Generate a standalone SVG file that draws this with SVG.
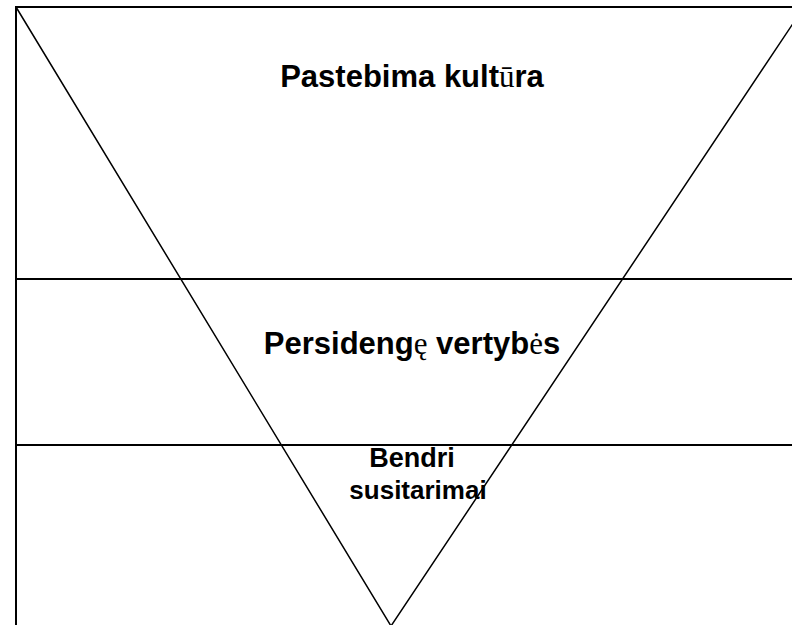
<svg xmlns="http://www.w3.org/2000/svg" width="792" height="625" viewBox="0 0 792 625">
  <style>
    .frame { fill: none; stroke: #000; stroke-width: 2; }
    .tri { fill: none; stroke: #000; stroke-width: 1.5; }
    .lbl { font-family: "Liberation Sans", Arial, sans-serif; font-weight: bold; fill: #000; text-anchor: middle; }
    .alt { font-family: "Liberation Serif", "Times New Roman", serif; font-weight: normal; }
  </style>
  <rect width="792" height="625" fill="#fff"/>
  <g id="frame">
    <path class="frame" d="M16,625 V7 H792"/>
    <line class="frame" x1="16" y1="279" x2="792" y2="279"/>
    <line class="frame" x1="16" y1="445" x2="792" y2="445"/>
  </g>
  <g id="connectors">
    <polyline class="tri" points="16,7 391,626 804,7"/>
  </g>
  <g id="layer-top">
    <text class="lbl" x="412" y="87" font-size="31">Pastebima kult<tspan class="alt">ū</tspan>ra</text>
  </g>
  <g id="layer-middle">
    <text class="lbl" x="412" y="354" font-size="31">Persideng<tspan class="alt">ę</tspan> vertyb<tspan class="alt">ė</tspan>s</text>
  </g>
  <g id="layer-bottom">
    <text class="lbl" x="412" y="467" font-size="27">Bendri</text>
    <text class="lbl" x="418" y="499" font-size="26">susitarimai</text>
  </g>
</svg>
